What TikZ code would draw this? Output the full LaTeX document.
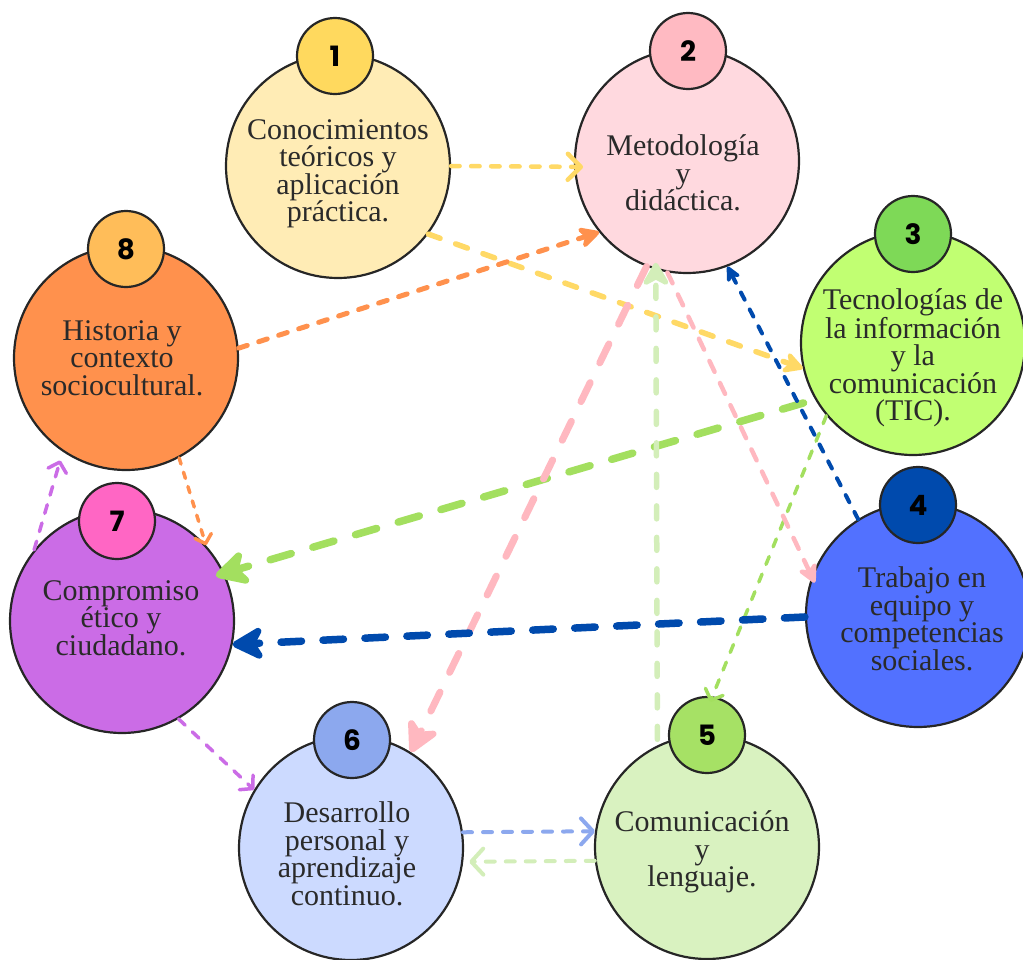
\documentclass[tikz,border=0pt]{standalone}
\usepackage{fontspec}
\setmainfont{Liberation Serif}
\newfontfamily\numfont{Poppins}
\usetikzlibrary{arrows.meta}

\definecolor{ink}{HTML}{262626}
\definecolor{txt}{HTML}{2A2A2A}
\definecolor{fillA}{HTML}{FFECB5}\definecolor{badgeA}{HTML}{FFD95E}
\definecolor{fillB}{HTML}{FFD9DF}\definecolor{badgeB}{HTML}{FFBAC2}
\definecolor{fillC}{HTML}{C1FF72}\definecolor{badgeC}{HTML}{7ED957}
\definecolor{fillD}{HTML}{5271FF}\definecolor{badgeD}{HTML}{004AAD}
\definecolor{fillE}{HTML}{D9F2C0}\definecolor{badgeE}{HTML}{A6E165}
\definecolor{fillF}{HTML}{CCDAFF}\definecolor{badgeF}{HTML}{8CA8EE}
\definecolor{fillG}{HTML}{CB6CE6}\definecolor{badgeG}{HTML}{FF66C4}
\definecolor{fillH}{HTML}{FF914D}\definecolor{badgeH}{HTML}{FFBD59}
% connector colours
\definecolor{aYellow}{HTML}{FFD966}
\definecolor{aOrange}{HTML}{FF914D}
\definecolor{aPurple}{HTML}{CB6CE6}
\definecolor{aGreen}{HTML}{A3DF5F}
\definecolor{aPink}{HTML}{FFB8C0}
\definecolor{aPale}{HTML}{D3EEB9}
\definecolor{aNavy}{HTML}{004AAD}
\definecolor{aBlue}{HTML}{8CA8EE}

\begin{document}
\begin{tikzpicture}[x=1pt,y=-1pt,
  disc/.style={circle, draw=ink, line width=2.2pt, minimum size=224pt, inner sep=0pt},
  badge/.style={circle, draw=ink, line width=2.2pt, minimum size=76pt, inner sep=0pt,
    font=\numfont\bfseries\fontsize{28}{28}\selectfont},
  lbl/.style={align=center, text=txt, inner sep=0pt, font=\fontsize{30}{27.5}\selectfont},
  link/.style={line cap=round, line join=round},
  barb/.style 2 args={-{Straight Barb[length=#1pt, width=#2pt, round]}},
  head/.style 2 args={-{Stealth[length=#1pt, width=#2pt, inset=0.3*#1pt, round]}},
]
\useasboundingbox (0,0) rectangle (1023,959);

% ---------- topic discs ----------
\node[disc, fill=fillA] (c1) at (338,166) {};
\node[disc, fill=fillB] (c2) at (687,161) {};
\node[disc, fill=fillC] (c3) at (913,343) {};
\node[disc, fill=fillD] (c4) at (918,615) {};
\node[disc, fill=fillE] (c5) at (707,847) {};
\node[disc, fill=fillF] (c6) at (351,848) {};
\node[disc, fill=fillG] (c7) at (122,621) {};
\node[disc, fill=fillH] (c8) at (126,358) {};

% ---------- number badges ----------
\node[badge, fill=badgeA] (b1) at (335,56) {1};
\node[badge, fill=badgeB] (b2) at (688,51) {2};
\node[badge, fill=badgeC] (b3) at (913,234) {3};
\node[badge, fill=badgeD] (b4) at (918,505) {4};
\node[badge, fill=badgeE] (b5) at (707,735) {5};
\node[badge, fill=badgeF] (b6) at (352,740) {6};
\node[badge, fill=badgeG] (b7) at (117,521) {7};
\node[badge, fill=badgeH] (b8) at (126,249) {8};

% ---------- labels ----------
\node[lbl] (t1) at (338,174) {Conocimientos\\teóricos y\\aplicación\\práctica.};
\node[lbl] (t2) at (683,173) {Metodología\\y\\didáctica.};
\node[lbl] (t3) at (913,358) {Tecnologías de\\la información\\y la\\comunicación\\(TIC).};
\node[lbl] (t4) at (922,619) {Trabajo en\\equipo y\\competencias\\sociales.};
\node[lbl] (t5) at (702,852) {Comunicación\\y\\lenguaje.};
\node[lbl] (t6) at (347,854) {Desarrollo\\personal y\\aprendizaje\\continuo.};
\node[lbl] (t7) at (121,618) {Compromiso\\ético y\\ciudadano.};
\node[lbl] (t8) at (122,358) {Historia y\\contexto\\sociocultural.};

% ---------- connectors ----------
% 1 -> 2
\draw[link, aYellow, line width=4.5pt, dash pattern=on 8.5pt off 11.5pt, barb={13}{26}]
  (c1.0) -- ([xshift=9pt]c2.183);
% 1 -> 3
\draw[link, aYellow, line width=5.5pt, dash pattern=on 12.5pt off 16.5pt, head={24}{26}]
  (c1.-37) -- (c3.193);
% 8 -> 2
\draw[link, aOrange, line width=5pt, dash pattern=on 9pt off 12pt, head={25}{26}]
  (c8.5) -- (c2.219);
% 8 -> 7
\draw[link, aOrange, line width=3.5pt, dash pattern=on 6.5pt off 8.5pt, barb={8}{17}]
  (c8.-62) -- (c7.42);
% 7 -> 8
\draw[link, aPurple, line width=3.5pt, dash pattern=on 9pt off 10pt, barb={9}{19}, shorten >=9pt]
  (c7.141) -- (c8.236);
% 7 -> 6
\draw[link, aPurple, line width=3.5pt, dash pattern=on 9pt off 10pt, barb={9}{20}]
  (c7.-60) -- (c6.149);
% 3 -> 7
\draw[link, aGreen, line width=7.5pt, dash pattern=on 22pt off 22.5pt, head={40}{42},
  shorten <=12pt, shorten >=-9pt]
  (c3.210) -- (c7.25);
% 3 -> 5
\draw[link, aGreen, line width=3.5pt, dash pattern=on 8.5pt off 10.5pt, barb={9}{19}, shorten >=-6pt]
  (c3.220) -- (b5.82);
% 2 -> 6
\draw[link, aPink, line width=7pt, dash pattern=on 21pt off 22pt, head={38}{40}]
  (c2.-111) -- (c6.58);
% 2 -> 4
\draw[link, aPink, line width=4.5pt, dash pattern=on 12pt off 12.5pt, head={23}{24}, shorten >=-7pt]
  (c2.-100) -- (c4.160);
% 5 -> 2
\draw[link, aPale, line width=5.5pt, dash pattern=on 13pt off 18.5pt, head={28}{32}, shorten <=6pt, shorten >=-7pt]
  (c5.116) -- (c2.-106);
% 4 -> 2
\draw[link, aNavy, line width=4pt, dash pattern=on 8pt off 11pt, head={19}{18}]
  (c4.122) -- (c2.-69);
% 4 -> 7
\draw[link, aNavy, line width=7.5pt, dash pattern=on 20.5pt off 21.5pt, head={38}{40}]
  (c4.181) -- (c7.-12);
% 6 -> 5
\draw[link, aBlue, line width=4pt, dash pattern=on 9pt off 11pt, barb={12}{26}]
  (c6.8) -- (c5.172);
% 5 -> 6
\draw[link, aPale, line width=4pt, dash pattern=on 9pt off 11pt, barb={12}{26}, shorten >=6pt]
  (c5.187) -- (c6.-7);
\end{tikzpicture}
\end{document}
